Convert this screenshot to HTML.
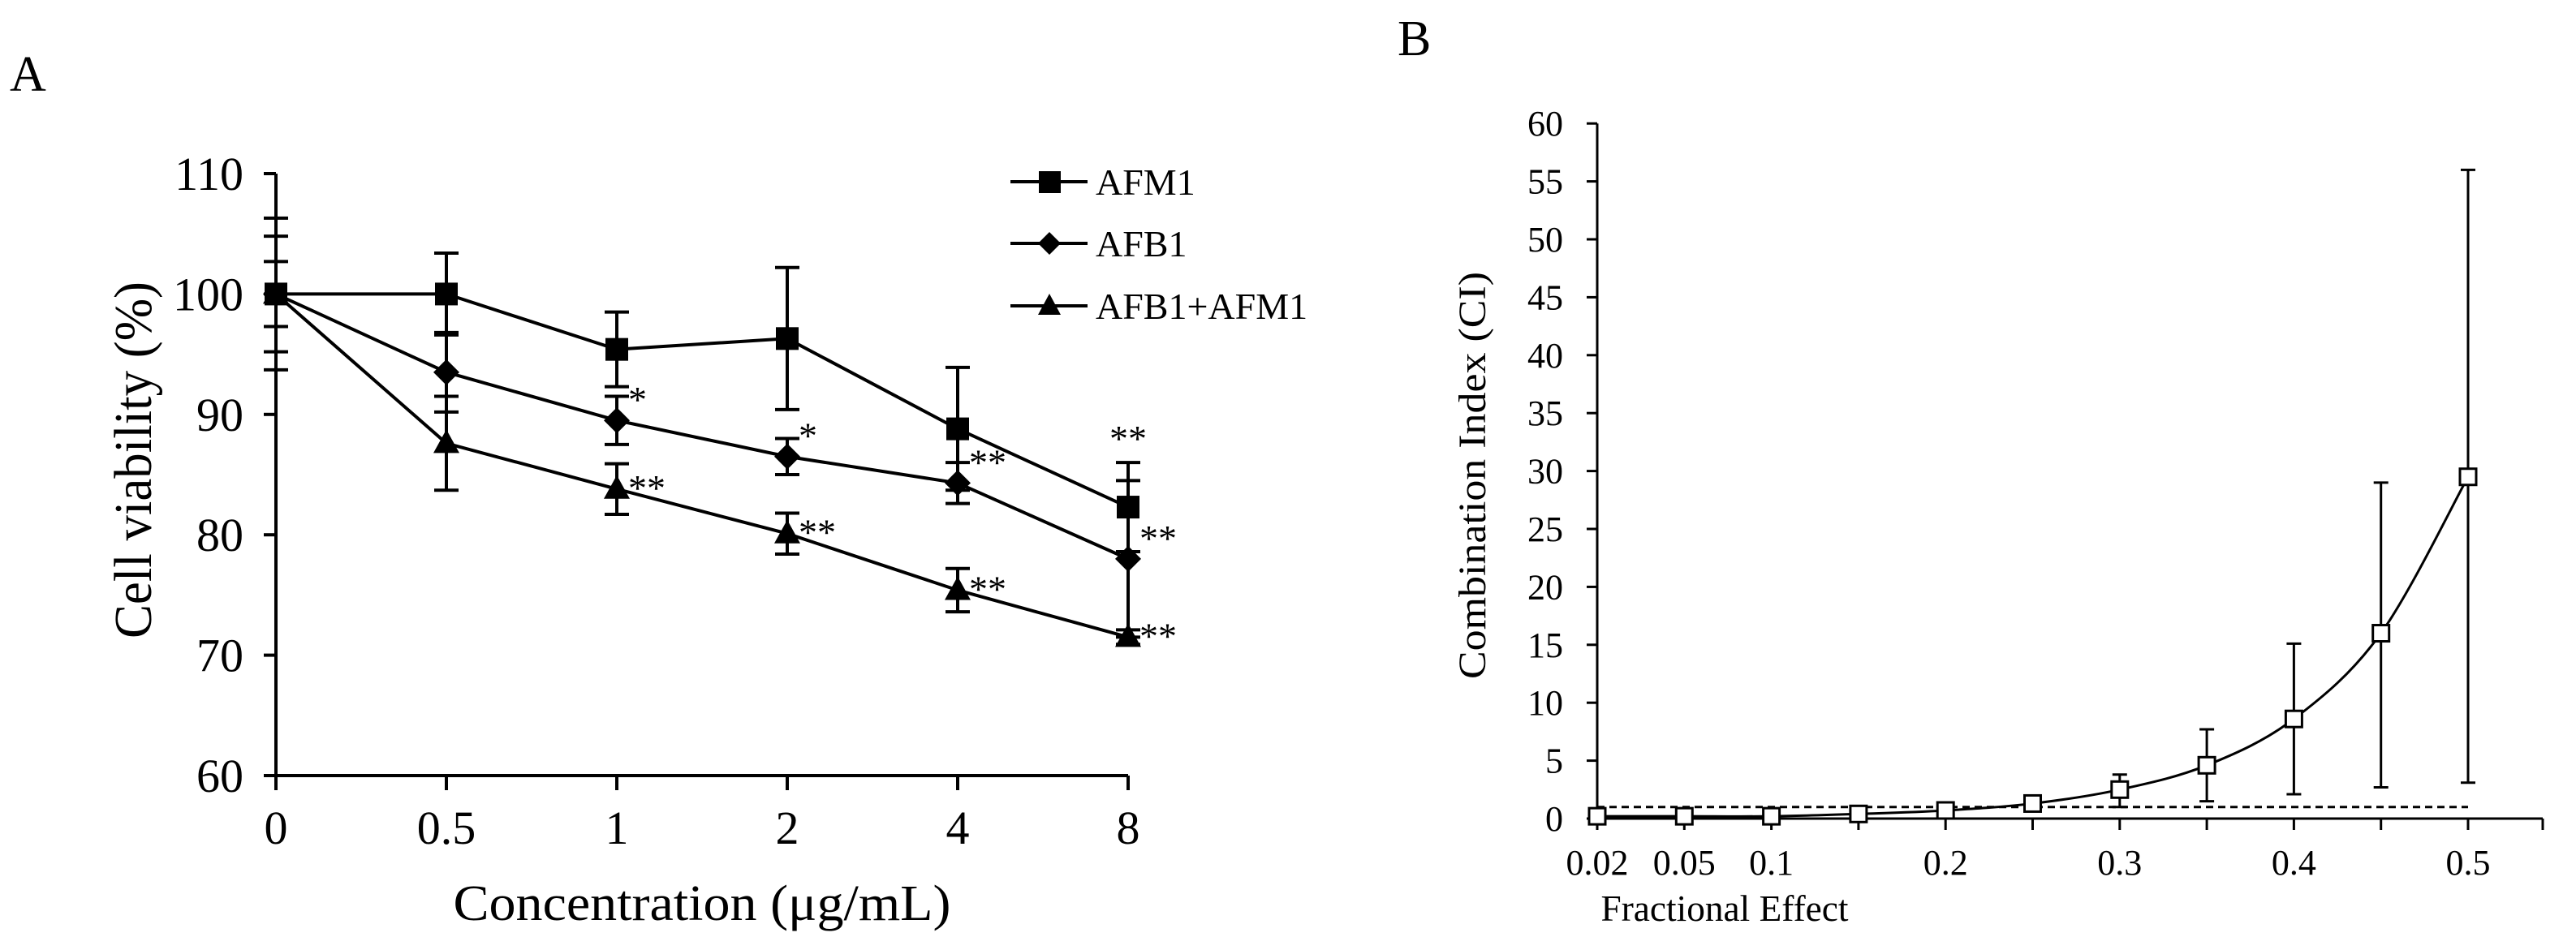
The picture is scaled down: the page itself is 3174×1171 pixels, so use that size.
<!DOCTYPE html>
<html><head><meta charset="utf-8"><style>
html,body{margin:0;padding:0;background:#fff;}
svg{display:block;font-family:"Liberation Serif",serif;}
</style></head><body>
<svg id="fig" width="3174" height="1171" viewBox="0 0 3174 1171" xmlns="http://www.w3.org/2000/svg">
<text x="12" y="112" font-size="62">A</text>
<text x="1722" y="68" font-size="62">B</text>
<text transform="translate(186,567) rotate(-90)" text-anchor="middle" font-size="66" textLength="440" lengthAdjust="spacingAndGlyphs">Cell viability (%)</text>
<text x="865" y="1134" text-anchor="middle" font-size="62" textLength="613" lengthAdjust="spacingAndGlyphs">Concentration  (μg/mL)</text>
<text transform="translate(1830,586) rotate(-90)" text-anchor="middle" font-size="48" textLength="502" lengthAdjust="spacingAndGlyphs">Combination  Index (CI)</text>
<text x="2125" y="1135" text-anchor="middle" font-size="46" textLength="305" lengthAdjust="spacingAndGlyphs">Fractional  Effect</text>
<g id="legA">
<g><line x1="1245" y1="224" x2="1340" y2="224" stroke="#000" stroke-width="4"/><rect x="1280" y="211" width="27" height="27" fill="#000"/><text x="1350" y="240" font-size="46">AFM1</text></g>
<g><line x1="1245" y1="300" x2="1340" y2="300" stroke="#000" stroke-width="4"/><polygon points="1293,286 1307,300 1293,314 1279,300" fill="#000"/><text x="1350" y="316" font-size="46">AFB1</text></g>
<g><line x1="1245" y1="377" x2="1340" y2="377" stroke="#000" stroke-width="4"/><polygon points="1293,362 1307,388 1279,388" fill="#000"/><text x="1350" y="393" font-size="46">AFB1+AFM1</text></g>
</g>
</svg>
<script>
// ---- Chart A data ----
const catsA = ["0","0.5","1","2","4","8"];
const afm1 = [100,100,95.4,96.3,88.8,82.3];
const afm1Err = [4.8,3.4,3.1,5.9,5.1,3.7];
const afb1 = [100,93.5,89.5,86.5,84.3,78];
const afb1Err = [6.3,3.3,2.0,1.5,1.7,6.5];
const combo = [100,87.6,83.8,80.1,75.4,71.5];
const comboErr = [2.7,3.9,2.1,1.7,1.8,0.6];
const yTicksA = [60,70,80,90,100,110];
const starsAfm1 = ["","","","","","**"];
const starsAfb1 = ["","","*","*","**","**"];
const starsCombo = ["","","**","**","**","**"];
// ---- Chart B data ----
const catsB = ["0.02","0.05","0.1","0.15","0.2","0.25","0.3","0.35","0.4","0.45","0.5"];
const showLabB = [true,true,true,false,true,false,true,false,true,false,true];
const ci = [0.2,0.2,0.2,0.4,0.7,1.3,2.5,4.6,8.6,16,29.5];
const ciLow = [0.2,0.2,0.2,0.4,0.7,1.3,1.0,1.5,2.1,2.7,3.1];
const ciHigh = [0.2,0.2,0.2,0.4,0.7,1.3,3.8,7.7,15.1,29,56];
const yTicksB = [0,5,10,15,20,25,30,35,40,45,50,55,60];
const ciRef = 1;

const NS="http://www.w3.org/2000/svg";
const svg=document.getElementById('fig');
function mk(tag,attrs,parent){const e=document.createElementNS(NS,tag);for(const k in attrs)e.setAttribute(k,attrs[k]);(parent||svg).appendChild(e);return e;}

// Chart A scales
const xA=i=>340+i*210;
const yA=v=>956-(v-60)*14.84;
const gA=mk('g',{});


const axA=mk('path',{d:`M340,${yA(110)} V${yA(60)} H1390`,stroke:'#000','stroke-width':4,fill:'none'},gA);


yTicksA.forEach(v=>{
  mk('line',{x1:325,x2:340,y1:yA(v),y2:yA(v),stroke:'#000','stroke-width':4},gA);
  const t=mk('text',{x:300,y:yA(v)+20,'text-anchor':'end','font-size':58},gA);
  t.textContent=v;
  
  
});
catsA.forEach((c,i)=>{
  mk('line',{x1:xA(i),x2:xA(i),y1:yA(60),y2:yA(60)+18,stroke:'#000','stroke-width':4},gA);
  const t=mk('text',{x:xA(i),y:1040,'text-anchor':'middle','font-size':58},gA);
  t.textContent=c;
  
  
});
function seriesA(vals,errs,shape,name,stars,starDy){
  const g=mk('g',{},gA);
  
  
  vals.forEach((v,i)=>{
    const x=xA(i),y1=yA(v+errs[i]),y2=yA(v-errs[i]);
    mk('line',{x1:x,x2:x,y1:y1,y2:y2,stroke:'#000','stroke-width':4},g);
    mk('line',{x1:x-15,x2:x+15,y1:y1,y2:y1,stroke:'#000','stroke-width':4},g);
    mk('line',{x1:x-15,x2:x+15,y1:y2,y2:y2,stroke:'#000','stroke-width':4},g);
  });
  mk('polyline',{points:vals.map((v,i)=>xA(i)+','+yA(v)).join(' '),fill:'none',stroke:'#000','stroke-width':4},g);
  vals.forEach((v,i)=>{
    const x=xA(i),y=yA(v);let m;
    if(shape==='sq')m=mk('rect',{x:x-14,y:y-14,width:28,height:28,fill:'#000'},g);
    else if(shape==='di')m=mk('polygon',{points:`${x},${y-16} ${x+16},${y} ${x},${y+16} ${x-16},${y}`,fill:'#000'},g);
    else m=mk('polygon',{points:`${x},${y-17} ${x+16},${y+12} ${x-16},${y+12}`,fill:'#000'},g);
    
    
    if(stars[i]){
      const t=mk('text',{x:x+(starDy===null?0:14),y:starDy===null?yA(v+errs[i])-14:y+starDy,'font-size':46,'text-anchor':starDy===null?'middle':'start'},g);
      t.textContent=stars[i];
      
      
    }
  });
}
seriesA(afm1,afm1Err,'sq','series-afm1',starsAfm1,null);
seriesA(afb1,afb1Err,'di','series-afb1',starsAfb1,-10);
seriesA(combo,comboErr,'tr','series-afb1-afm1',starsCombo,14);

// Chart B scales
const xB=i=>1968+i*107.3;
const yB=v=>1009-v*14.28;
const gB=mk('g',{});


const axB=mk('path',{d:`M1968,${yB(60)} V${yB(0)} H3133`,stroke:'#000','stroke-width':3,fill:'none'},gB);


mk('line',{x1:3133,x2:3133,y1:yB(0),y2:yB(0)+14,stroke:'#000','stroke-width':3},gB);
yTicksB.forEach(v=>{
  mk('line',{x1:1955,x2:1968,y1:yB(v),y2:yB(v),stroke:'#000','stroke-width':3},gB);
  const t=mk('text',{x:1926,y:yB(v)+15,'text-anchor':'end','font-size':44},gB);
  t.textContent=v;
  
  
});
catsB.forEach((c,i)=>{
  mk('line',{x1:xB(i),x2:xB(i),y1:yB(0),y2:yB(0)+14,stroke:'#000','stroke-width':3},gB);
  if(showLabB[i]){
    const t=mk('text',{x:xB(i),y:1078,'text-anchor':'middle','font-size':44},gB);
    t.textContent=c;
    
    
  }
});
const ref=mk('line',{x1:xB(0),x2:xB(catsB.length-1),y1:yB(ciRef),y2:yB(ciRef),stroke:'#000','stroke-width':3,'stroke-dasharray':'9,6'},gB);


const gs=mk('g',{},gB);


ci.forEach((v,i)=>{
  if(ciHigh[i]-ciLow[i]>0.5){
    const x=xB(i),a=yB(ciHigh[i]),b=yB(ciLow[i]);
    mk('line',{x1:x,x2:x,y1:a,y2:b,stroke:'#000','stroke-width':3},gs);
    mk('line',{x1:x-9,x2:x+9,y1:a,y2:a,stroke:'#000','stroke-width':3},gs);
    mk('line',{x1:x-9,x2:x+9,y1:b,y2:b,stroke:'#000','stroke-width':3},gs);
  }
});
const P=ci.map((v,i)=>[xB(i),yB(v)]);
let d=`M${P[0][0]},${P[0][1]}`;
for(let i=0;i<P.length-1;i++){
  const p0=P[Math.max(i-1,0)],p1=P[i],p2=P[i+1],p3=P[Math.min(i+2,P.length-1)];
  const c1=[p1[0]+(p2[0]-p0[0])/6,p1[1]+(p2[1]-p0[1])/6],c2=[p2[0]-(p3[0]-p1[0])/6,p2[1]-(p3[1]-p1[1])/6];
  d+=` C${c1[0]},${c1[1]} ${c2[0]},${c2[1]} ${p2[0]},${p2[1]}`;
}
mk('path',{d:d,fill:'none',stroke:'#000','stroke-width':3},gs);
P.forEach(p=>{
  const r=mk('rect',{x:p[0]-10,y:p[1]-10,width:20,height:20,fill:'#fff',stroke:'#000','stroke-width':3},gs);
  
  
});
</script>
</body></html>
